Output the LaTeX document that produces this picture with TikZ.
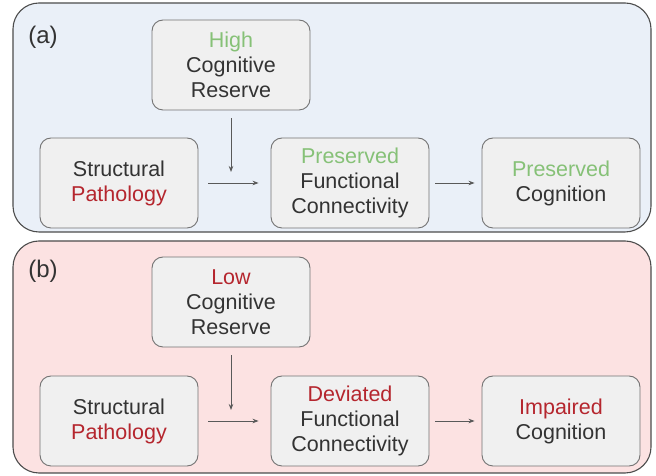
\documentclass[tikz,border=0pt]{standalone}
\usepackage{fontspec}
\setmainfont{Liberation Sans}
\usetikzlibrary{arrows.meta}
\definecolor{hiGreen}{HTML}{86C177}
\definecolor{loRed}{HTML}{B5262E}
\definecolor{panelBlue}{HTML}{EAF0F8}
\definecolor{panelPink}{HTML}{FCE2E2}
\definecolor{boxGray}{HTML}{F0F0F0}
\definecolor{inkGray}{HTML}{333333}
\begin{document}
\begin{tikzpicture}[x=1pt, y=1pt,
    panel/.style={draw=black!70, line width=1.1pt, rounded corners=26pt},
    box/.style={draw=black!55, line width=0.9pt, fill=boxGray, rounded corners=11pt,
      minimum width=158pt, minimum height=90pt, align=center, text=inkGray,
      font=\fontsize{21.5}{25}\selectfont},
    link/.style={draw=black!65, line width=0.8pt, -{Stealth[length=6pt, width=4.5pt]}},
    tag/.style={font=\fontsize{24}{28}\selectfont, text=inkGray}]
  \useasboundingbox (0, 0) rectangle (656, 476);
  % (a) high reserve
  \draw[panel, fill=panelBlue] (13, 244) rectangle (651, 473);
  \node[tag] (taga) at (43, 439) {(a)};
  \node[box] (resa) at (231, 411) {\textcolor{hiGreen}{High}\\Cognitive\\Reserve};
  \node[box] (patha) at (119, 293) {Structural\\\textcolor{loRed}{Pathology}};
  \node[box] (fca) at (350, 293) {\textcolor{hiGreen}{Preserved}\\Functional\\Connectivity};
  \node[box] (coga) at (561, 293) {\textcolor{hiGreen}{Preserved}\\Cognition};
  \coordinate (joina) at (231, 304);
  \draw[link] ([yshift=-8pt]resa.south) -- (joina);
  \draw[link, shorten <=10pt, shorten >=12pt] (patha.east) -- (fca.west);
  \draw[link, shorten <=6pt, shorten >=7pt] (fca.east) -- (coga.west);
  % (b) low reserve
  \draw[panel, fill=panelPink] (13, 3) rectangle (651, 235);
  \node[tag] (tagb) at (43, 205) {(b)};
  \node[box] (resb) at (231, 174) {\textcolor{loRed}{Low}\\Cognitive\\Reserve};
  \node[box] (pathb) at (119, 55) {Structural\\\textcolor{loRed}{Pathology}};
  \node[box] (fcb) at (350, 55) {\textcolor{loRed}{Deviated}\\Functional\\Connectivity};
  \node[box] (cogb) at (561, 55) {\textcolor{loRed}{Impaired}\\Cognition};
  \coordinate (joinb) at (231, 66);
  \draw[link] ([yshift=-8pt]resb.south) -- (joinb);
  \draw[link, shorten <=10pt, shorten >=12pt] (pathb.east) -- (fcb.west);
  \draw[link, shorten <=6pt, shorten >=7pt] (fcb.east) -- (cogb.west);
\end{tikzpicture}
\end{document}
